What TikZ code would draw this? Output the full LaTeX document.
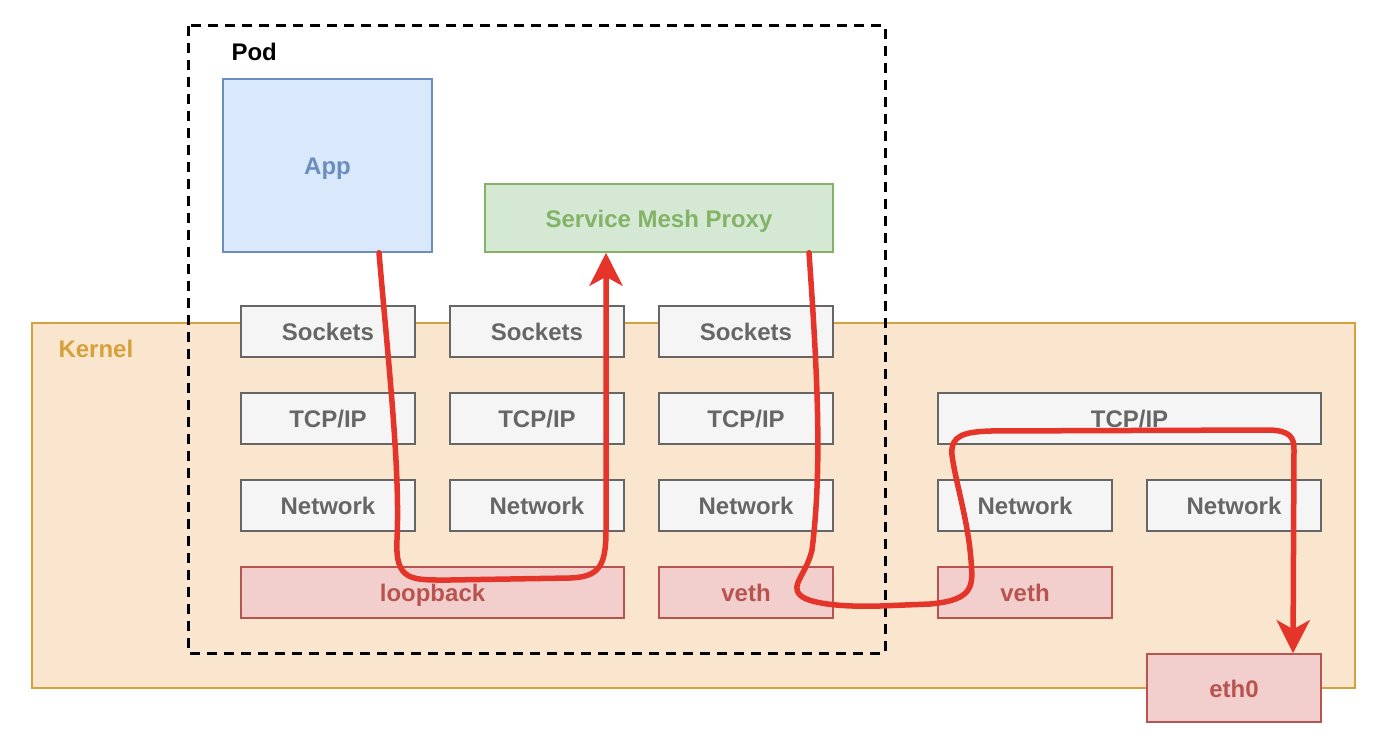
\documentclass[tikz,border=0pt]{standalone}
\usepackage{fontspec}
\setmainfont{Liberation Sans}
\usetikzlibrary{arrows.meta}
\definecolor{kernelfill}{HTML}{FAE6CF}
\definecolor{kerneldraw}{HTML}{D6A13A}
\definecolor{grayfill}{HTML}{F5F5F5}
\definecolor{graydraw}{HTML}{666666}
\definecolor{appfill}{HTML}{DAE8FC}
\definecolor{appdraw}{HTML}{6C8EBF}
\definecolor{proxyfill}{HTML}{D5E8D4}
\definecolor{proxydraw}{HTML}{82B366}
\definecolor{devfill}{HTML}{F2CFCC}
\definecolor{devdraw}{HTML}{B85450}
\definecolor{flowred}{HTML}{E5352A}
\tikzset{
	layer/.style={draw=graydraw, fill=grayfill, text=graydraw, line width=1.5pt, inner sep=0pt,
		text height=18pt, text depth=0pt,
		minimum width=174pt, minimum height=51pt, font=\bfseries\fontsize{24}{28}\selectfont},
	dev/.style={layer, draw=devdraw, fill=devfill, text=devdraw},
	flow/.style={draw=flowred, line width=5.5pt, line cap=round, line join=round,
		-{Stealth[length=33pt, width=33pt, inset=9pt]}}
}
\begin{document}
\begin{tikzpicture}[x=1pt, y=-1pt]
		\useasboundingbox (0,0) rectangle (1400,752);
		% kernel and pod frames
		\draw[fill=kernelfill, draw=kerneldraw, line width=1.5pt] (32,323) rectangle (1355,688);
		\node[anchor=west, text=kerneldraw, font=\bfseries\fontsize{24}{28}\selectfont] (kernel) at (55,349) {Kernel};
		\draw[line width=3pt, dash pattern=on 10pt off 7pt] (188,26) rectangle (885,653);
		\node[anchor=west, font=\bfseries\fontsize{24}{28}\selectfont] (pod) at (228,52) {Pod};
		
		\node[layer, draw=appdraw, fill=appfill, text=appdraw, minimum width=209pt, minimum height=173pt] (app) at (327.5,165.5) {App};
		\node[layer, draw=proxydraw, fill=proxyfill, text=proxydraw, minimum width=348pt, minimum height=68pt] (proxy) at (659,218) {Service Mesh Proxy};
		
		\node[layer] (sock1) at (328,331.5) {Sockets};
		\node[layer] (sock2) at (537,331.5) {Sockets};
		\node[layer] (sock3) at (746,331.5) {Sockets};
		\node[layer] (tcp1) at (328,418.5) {TCP/IP};
		\node[layer] (tcp2) at (537,418.5) {TCP/IP};
		\node[layer] (tcp3) at (746,418.5) {TCP/IP};
		\node[layer, minimum width=383pt] (tcp4) at (1129.5,418.5) {TCP/IP};
		\node[layer] (net1) at (328,505.5) {Network};
		\node[layer] (net2) at (537,505.5) {Network};
		\node[layer] (net3) at (746,505.5) {Network};
		\node[layer] (net4) at (1025,505.5) {Network};
		\node[layer] (net5) at (1234,505.5) {Network};
		\node[dev, minimum width=383pt] (lo) at (432.5,592.5) {loopback};
		\node[dev] (veth1) at (746,592.5) {veth};
		\node[dev] (veth2) at (1025,592.5) {veth};
		\node[dev, minimum height=68pt] (eth0) at (1234,688) {eth0};
		
		% app -> loopback -> proxy
		\draw[flow] ([xshift=51.5pt]app.south) .. controls (390,380) and (400,470) .. (397,540)
			.. controls (395,582) and (412,580) .. (450,580) -- (570,578)
			.. controls (600,577) and (606,565) .. (606,530) -- ([xshift=-53pt]proxy.south);
		% proxy -> veth pair -> eth0
		\draw[flow] ([xshift=150pt]proxy.south) .. controls (818,380) and (822,470) .. (812,550)
			.. controls (806,575) and (790,585) .. (800,595)
			.. controls (810,605) and (850,607) .. (880,606) -- (930,604)
			.. controls (975,600) and (973,585) .. (971,560)
			.. controls (968,520) and (955,480) .. (952,455)
			.. controls (950,435) and (965,432) .. (990,431) -- (1270,430)
			.. controls (1290,431) and (1294,437) .. (1294,450) -- ([xshift=59pt]eth0.north);
	\end{tikzpicture}
\end{document}
